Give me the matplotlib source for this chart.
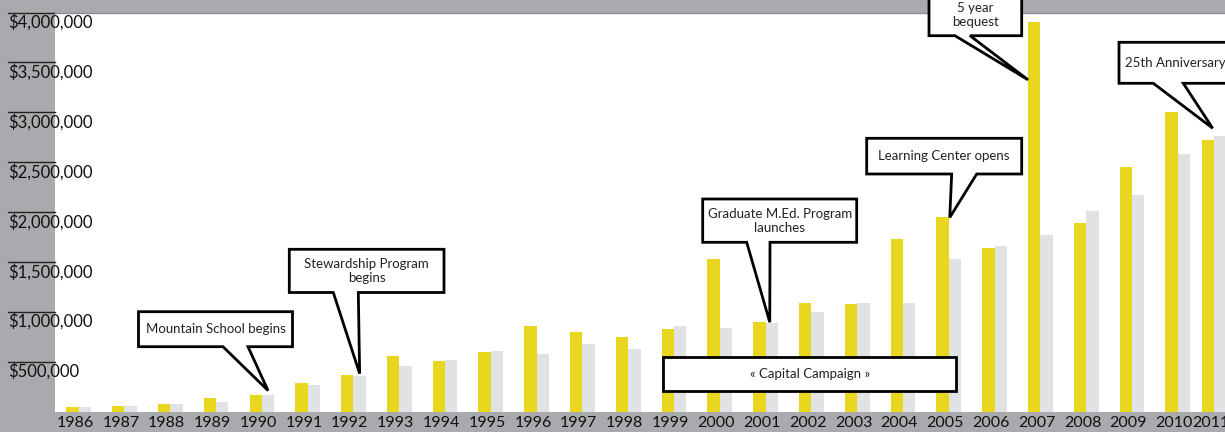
import numpy as np
import matplotlib
matplotlib.use("Agg")
import matplotlib.pyplot as plt
from matplotlib.patches import Polygon

plt.rcParams['font.family'] = ['Lato', 'DejaVu Sans']

# values (dollars)
years = [1986, 1987, 1988, 1989, 1990, 1991, 1992, 1993, 1994, 1995, 1996, 1997, 1998,
         1999, 2000, 2001, 2002, 2003, 2004, 2005, 2006, 2007, 2008, 2009, 2010, 2011]
gold_vals = [50000, 55000, 77000, 135000, 170000, 285000, 370000, 555000, 505000, 595000,
             855000, 800000, 745000, 830000, 1525000, 900000, 1090000, 1075000, 1725000,
             1945000, 1640000, 3905000, 1885000, 2450000, 3000000, 2725000]
gray_vals = [50000, 55000, 77000, 95000, 170000, 265000, 355000, 455000, 520000, 605000,
             580000, 675000, 630000, 860000, 840000, 890000, 1000000, 1090000, 1090000,
             1525000, 1655000, 1770000, 2015000, 2170000, 2580000, 2765000]
ytick_vals = [500000, 1000000, 1500000, 2000000, 2500000, 3000000, 3500000, 4000000]
ytick_labels = ['$500,000', '$1,000,000', '$1,500,000', '$2,000,000',
                '$2,500,000', '$3,000,000', '$3,500,000', '$4,000,000']

GOLD = '#e9d71f'
LIGHT = '#e1e2e4'
BG = '#a9aaad'

W, H = 1225, 432
fig = plt.figure(figsize=(W / 100, H / 100), dpi=100, facecolor=BG)
ax = fig.add_axes([55 / W, 20.5 / H, 1170 / W, 399 / H])
ax.set_facecolor('white')

x = np.arange(len(years), dtype=float)
x[-1] -= 0.2  # last group is squeezed against the right edge in the original
w = 0.27

ax.bar(x - w / 2, gold_vals, w, color=GOLD, linewidth=0)
ax.bar(x + w / 2, gray_vals, w, color=LIGHT, linewidth=0)

ax.set_xlim(-0.517, 25.03)
ax.set_ylim(0, 4000000)

for s in ['left', 'right', 'bottom']:
    ax.spines[s].set_visible(False)
ax.spines['top'].set_color('#8c8d90')
ax.spines['top'].set_linewidth(1)

ax.set_yticks([])
ax.set_xticks(x - 0.08, [str(y) for y in years])
ax.tick_params(axis='x', length=0, pad=3, labelsize=11.5, labelcolor='#111111')

# value labels sit just under short rules in the grey margin
ytr = ax.get_yaxis_transform()
for v, lbl in zip(ytick_vals, ytick_labels):
    ax.plot([-0.0402, 0], [v, v], transform=ytr, clip_on=False, color='#222222', lw=1)
    ax.annotate(lbl, (-0.0402, v), xycoords=ytr, xytext=(0, -1), textcoords='offset points',
                ha='left', va='top', fontsize=12, color='#111111', annotation_clip=False)


def to_fig(px, py):
    return px / W, 1 - py / H


def callout(text, box, base=None, tip=None, text_xy=None):
    """Speech-bubble box drawn in figure pixels (top-left origin), tail ends at a data point."""
    x0, y0, x1, y1 = box
    pts = [to_fig(x0, y0), to_fig(x1, y0), to_fig(x1, y1)]
    if base is not None:
        tipf = fig.transFigure.inverted().transform(ax.transData.transform(tip))
        pts += [to_fig(base[1], y1), tuple(tipf), to_fig(base[0], y1)]
    pts.append(to_fig(x0, y1))
    fig.add_artist(Polygon(pts, closed=True, transform=fig.transFigure, facecolor='white',
                           edgecolor='black', lw=2, joinstyle='miter', zorder=5))
    cx, cy = text_xy if text_xy else ((x0 + x1) / 2, (y0 + y1) / 2)
    fig.text(*to_fig(cx, cy), text, ha='center', va='center', fontsize=9.5,
             color='#222222', zorder=6)


callout('Mountain School begins', (138.5, 311.7, 292.5, 346.7), (223, 248),
        (x[4] + w / 2, gray_vals[4] + 40000))
callout('Stewardship Program\nbegins', (289.3, 249.3, 444, 292.5), (333.3, 358.3),
        (x[6] + w / 2, gray_vals[6] + 25000))
callout('Graduate M.Ed. Program\nlaunches', (702.7, 199, 856.7, 242.3), (746.7, 770),
        (x[15] + 0.09, gray_vals[15] + 5000))
callout('Learning Center opens', (866.7, 138.3, 1021.7, 174), (951.7, 976.7),
        (x[19] + 0.02, gold_vals[19]))
callout('5 year\nbequest', (929, -5, 1021.7, 35.7), (955, 970),
        (x[21] - w, gold_vals[21] - 580000))
callout('25th Anniversary', (1119, 42.3, 1232, 83.3), (1153.3, 1183.3),
        (x[25] - 0.04, gold_vals[25] + 115000))
callout('\u00ab Capital Campaign \u00bb', (663.3, 356.7, 956, 391))

fig.savefig('out.png', dpi=100, facecolor=BG)
